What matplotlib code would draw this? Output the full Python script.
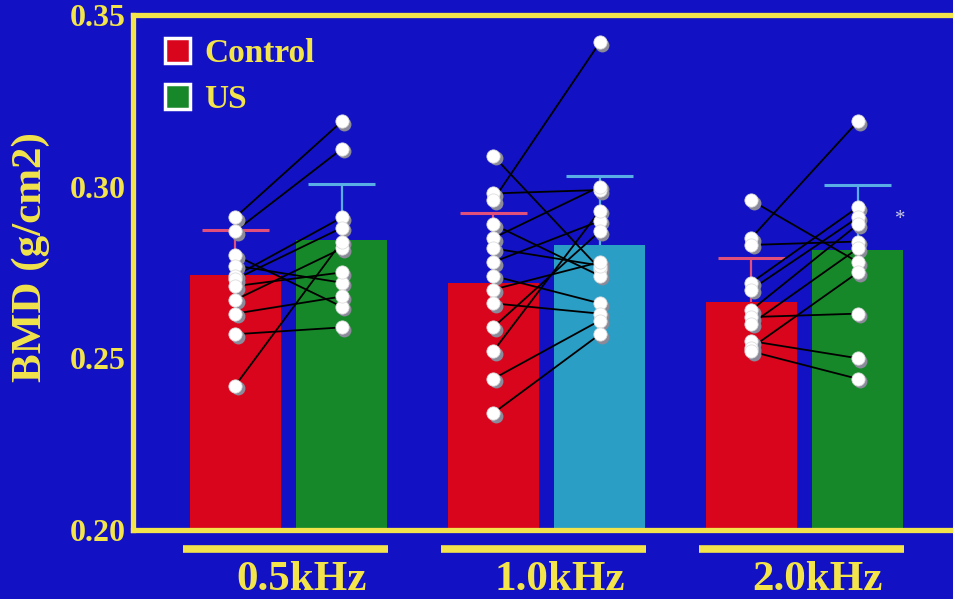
import matplotlib
matplotlib.use("Agg")
import matplotlib.pyplot as plt
import matplotlib.transforms as mtransforms
from matplotlib.patches import Patch

# ---- data ----
groups = ["0.5kHz", "1.0kHz", "2.0kHz"]
control_mean = [0.2743, 0.2720, 0.2664]
us_mean = [0.2845, 0.2830, 0.2816]
control_err = [0.0131, 0.0203, 0.0128]
us_err = [0.0163, 0.0200, 0.0190]

ctrl_05 = [0.291, 0.287, 0.280, 0.277, 0.274, 0.273, 0.271, 0.267, 0.263, 0.257, 0.242]
us_05 = [0.319, 0.311, 0.265, 0.272, 0.291, 0.288, 0.275, 0.282, 0.268, 0.259, 0.284]
ctrl_10 = [0.309, 0.298, 0.296, 0.289, 0.285, 0.282, 0.278, 0.274, 0.270, 0.266, 0.259, 0.252, 0.244, 0.234]
us_10 = [0.276, 0.299, 0.342, 0.274, 0.300, 0.277, 0.290, 0.266, 0.278, 0.263, 0.287, 0.293, 0.261, 0.257]
ctrl_20 = [0.296, 0.285, 0.283, 0.272, 0.270, 0.264, 0.262, 0.260, 0.255, 0.253, 0.252]
us_20 = [0.278, 0.319, 0.284, 0.294, 0.291, 0.289, 0.263, 0.282, 0.250, 0.275, 0.244]
pairs = [(ctrl_05, us_05), (ctrl_10, us_10), (ctrl_20, us_20)]

yticks = [0.20, 0.25, 0.30, 0.35]
ytick_labels = ["0.20", "0.25", "0.30", "0.35"]
ylabel = "BMD (g/cm2)"

# ---- style ----
BG = "#1212c4"
YEL = "#f2e44a"
RED = "#d8051c"
GREEN = "#17882a"
CYAN = "#2a9ec4"
us_colors = [GREEN, CYAN, GREEN]
FONT = "Liberation Serif"

fig = plt.figure(figsize=(9.54, 5.99), dpi=100, facecolor=BG)
ax = fig.add_axes([0.1394, 0.1152, 0.867, 0.860], facecolor=BG)

off = 0.207
w = 0.353
xs = range(len(groups))
cx = [x - off for x in xs]
ux = [x + off for x in xs]
cap = 0.13

ax.bar(cx, [m - 0.20 for m in control_mean], bottom=0.20, width=w, color=RED, zorder=2)
ax.bar(ux, [m - 0.20 for m in us_mean], bottom=0.20, width=w, color=us_colors, zorder=2)

for xpos, m, e, col in list(zip(cx, control_mean, control_err, ["#e0507a"] * 3)) + \
        list(zip(ux, us_mean, us_err, ["#5aaee6"] * 3)):
    ax.vlines(xpos, m, m + e, color=col, lw=1.6, zorder=3)
    ax.hlines(m + e, xpos - cap, xpos + cap, color=col, lw=2.2, zorder=3)

shadow = mtransforms.offset_copy(ax.transData, fig=fig, x=1.8, y=-1.8, units="points")
for i, (c, u) in enumerate(pairs):
    for a, b in zip(c, u):
        ax.plot([cx[i], ux[i]], [a, b], color="black", lw=1.3, zorder=4)
    for xpos, vals in ((cx[i], c), (ux[i], u)):
        ax.plot([xpos]*len(vals), vals, "o", ms=10, color="#8a8a9a", mec="none",
                transform=shadow, zorder=5)
        ax.plot([xpos]*len(vals), vals, "o", ms=9.5, color="white", mec="#dddddd",
                mew=0.6, zorder=6)

ax.text(2 + 0.372, 0.2905, "*", color="#c8c8e0", fontsize=15, ha="center", va="center",
        family=FONT, zorder=6)

ax.set_xlim(-0.603, 2.603)
ax.set_ylim(0.20, 0.35)
ax.set_yticks(yticks)
ax.set_yticklabels(ytick_labels)
ax.set_xticks([])
ax.tick_params(axis="y", length=0, pad=5, labelsize=23, labelcolor=YEL)
for lab in ax.get_yticklabels():
    lab.set_fontfamily(FONT)
    lab.set_fontweight("bold")

for side in ("left", "top", "bottom"):
    ax.spines[side].set_color(YEL)
    ax.spines[side].set_linewidth(3.8)
ax.spines["right"].set_visible(False)

ax.text(-0.124, 0.53, ylabel, color=YEL, fontsize=31, fontweight="bold", family=FONT,
        rotation=90, ha="center", va="center", transform=ax.transAxes)

trans = mtransforms.blended_transform_factory(ax.transData, ax.transAxes)
for i, g in enumerate(groups):
    ax.plot([i - 0.409, i + 0.386], [-0.036, -0.036], color=YEL, lw=5.5,
            transform=trans, clip_on=False, solid_capstyle="butt")
    ax.text(i + 0.05, -0.098, g, color=YEL, fontsize=31, fontweight="bold", family=FONT,
            ha="center", va="center", transform=trans)

handles = [Patch(facecolor=RED, edgecolor="white", linewidth=2.5),
           Patch(facecolor=GREEN, edgecolor="white", linewidth=2.5)]
leg = ax.legend(handles, ["Control", "US"], loc="upper left", bbox_to_anchor=(0.01, 1.0),
                frameon=False, handlelength=0.75, handleheight=0.75, handletextpad=0.45,
                labelspacing=0.45, borderaxespad=0.3,
                prop={"family": FONT, "weight": "bold", "size": 24})
for t in leg.get_texts():
    t.set_color(YEL)

fig.savefig("out.png", dpi=100, facecolor=BG)
